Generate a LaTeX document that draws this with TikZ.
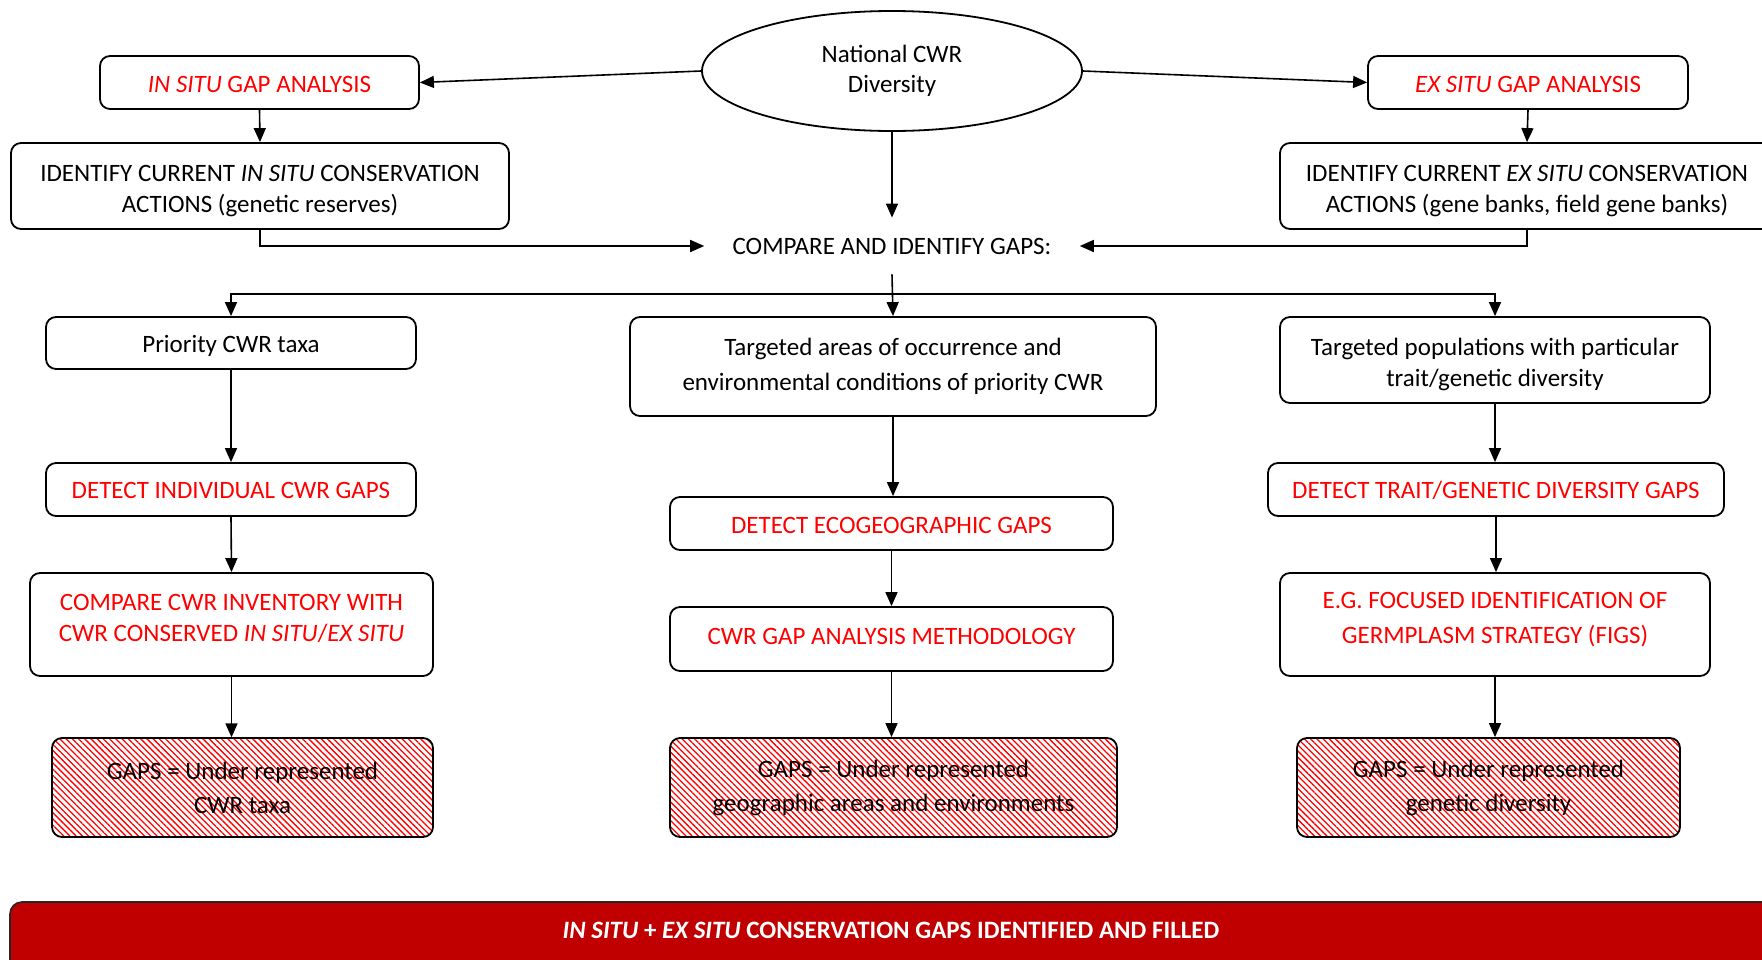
\documentclass[tikz,border=0pt]{standalone}
\usepackage{fontspec}
\setmainfont{Carlito}
\usetikzlibrary{arrows.meta,patterns.meta,shapes.geometric}
\definecolor{barred}{HTML}{C00000}
\begin{document}
\begin{tikzpicture}[x=0.5pt,y=-0.5pt,
  font=\fontsize{12.5}{16}\selectfont,
  box/.style={draw,line width=0.9pt,rounded corners=5pt,inner sep=0pt},
  tx/.style={align=center,inner sep=0pt},
  rtxt/.style={tx,text=red},
  gapbox/.style={box,pattern={Lines[angle=-45,distance=2.2pt,line width=0.65pt]},pattern color=red},
  arr/.style={line width=0.8pt,-{Triangle[length=7pt,width=6pt]}},
]
\useasboundingbox (0,0) rectangle (1762,959);

% boxes
\node[draw,ellipse,line width=0.9pt,minimum width=190pt,minimum height=60pt,inner sep=0pt,align=center] (ell) at (892,71) {National CWR\\[-1pt]Diversity};

\node[box,minimum width=159.5pt,minimum height=26.5pt] (insitu) at (259.5,82.5) {};
\node[rtxt] (insitu-t) at ([yshift=-1pt]insitu.center) {\textit{IN SITU} GAP ANALYSIS};
\node[box,minimum width=160pt,minimum height=26.5pt] (exsitu) at (1528,82.5) {};
\node[rtxt] (exsitu-t) at ([yshift=-1pt]exsitu.center) {\textit{EX SITU} GAP ANALYSIS};

\node[box,minimum width=249pt,minimum height=43pt] (idin) at (260,186) {};
\node[tx,font=\fontsize{12.5}{15.3}\selectfont] (idin-t) at ([yshift=-2.5pt]idin.center) {IDENTIFY CURRENT \textit{IN SITU} CONSERVATION\\ACTIONS (genetic reserves)};
\node[box,minimum width=247pt,minimum height=43pt] (idex) at (1527,186) {};
\node[tx,font=\fontsize{12.5}{15.3}\selectfont] (idex-t) at ([yshift=-2.5pt]idex.center) {IDENTIFY CURRENT \textit{EX SITU} CONSERVATION\\ACTIONS (gene banks, field gene banks)};

\node[tx,inner xsep=14pt,minimum height=28pt] (cmp) at (892,246) {COMPARE AND IDENTIFY GAPS:};

\node[box,minimum width=185pt,minimum height=26pt] (prio) at (231,343) {};
\node[tx] (prio-t) at ([yshift=-1.7pt]prio.center) {Priority CWR taxa};
\node[box,minimum width=263pt,minimum height=49.5pt] (targ) at (893,366.5) {};
\node[tx,font=\fontsize{12.5}{17.5}\selectfont] (targ-t) at (targ.center) {Targeted areas of occurrence and\\environmental conditions of priority CWR};
\node[box,minimum width=215pt,minimum height=43pt] (pop) at (1495,360) {};
\node[tx,font=\fontsize{12.5}{15.5}\selectfont] (pop-t) at ([yshift=-2pt]pop.center) {Targeted populations with particular\\trait/genetic diversity};

\node[box,minimum width=185pt,minimum height=26.5pt] (detind) at (231,489.5) {};
\node[rtxt] (detind-t) at ([yshift=-0.6pt]detind.center) {DETECT INDIVIDUAL CWR GAPS};
\node[box,minimum width=221.5pt,minimum height=26.5pt] (deteco) at (891.5,523.5) {};
\node[rtxt] (deteco-t) at ([yshift=-1.1pt]deteco.center) {DETECT ECOGEOGRAPHIC GAPS};
\node[box,minimum width=228pt,minimum height=26.5pt] (dettr) at (1496,489.5) {};
\node[rtxt] (dettr-t) at ([yshift=-0.6pt]dettr.center) {DETECT TRAIT/GENETIC DIVERSITY GAPS};

\node[box,minimum width=201.5pt,minimum height=51.5pt] (cmpinv) at (231.5,624.5) {};
\node[rtxt,font=\fontsize{12.5}{15.7}\selectfont] (cmpinv-t) at ([yshift=3pt]cmpinv.center) {COMPARE CWR INVENTORY WITH\\CWR CONSERVED \textit{IN SITU}/\textit{EX SITU}};
\node[box,minimum width=221.5pt,minimum height=32pt] (meth) at (891.5,639) {};
\node[rtxt] (meth-t) at ([yshift=1.5pt]meth.center) {CWR GAP ANALYSIS METHODOLOGY};
\node[box,minimum width=215pt,minimum height=51.5pt] (figs) at (1495,624.5) {};
\node[rtxt,font=\fontsize{12.5}{17.4}\selectfont] (figs-t) at ([yshift=2.3pt]figs.center) {E.G. FOCUSED IDENTIFICATION OF\\GERMPLASM STRATEGY (FIGS)};

\node[gapbox,minimum width=190.5pt,minimum height=49.5pt] (gap1) at (242.5,787.5) {};
\node[tx,font=\fontsize{12.5}{17}\selectfont] (gap1-t) at (gap1.center) {GAPS = Under represented\\CWR taxa};
\node[gapbox,minimum width=223.5pt,minimum height=49.5pt] (gap2) at (893.5,787.5) {};
\node[tx,font=\fontsize{12.5}{17}\selectfont] (gap2-t) at (gap2.center) {GAPS = Under represented\\geographic areas and environments};
\node[gapbox,minimum width=191.5pt,minimum height=49.5pt] (gap3) at (1488.5,787.5) {};
\node[tx,font=\fontsize{12.5}{17}\selectfont] (gap3-t) at (gap3.center) {GAPS = Under represented\\genetic diversity};

\path[draw=black!85,fill=barred,line width=0.8pt,rounded corners=6pt] (10,902) rectangle (1800,1000);
\node[text=white,font=\fontsize{12.5}{16}\selectfont\bfseries] (bar) at (891,930) {\textit{IN SITU} + \textit{EX SITU} CONSERVATION GAPS IDENTIFIED AND FILLED};

% connectors
\draw[arr] (ell.west) -- (insitu.east);
\draw[arr] (ell.east) -- (exsitu.west);
\draw[arr] (insitu.south) -- (idin.north);
\draw[arr] (exsitu.south) -- (idex.north);
\draw[arr] (ell.south) -- (cmp.north);
\draw[arr] (idin.south) |- (cmp.west);
\draw[arr] (idex.south) |- (cmp.east);
\coordinate (br) at (892,294);
\draw[arr] (cmp.south) -- (targ.north);
\draw[arr] (br) -| (prio.north);
\draw[arr] (br) -| (pop.north);

\draw[arr] (prio.south) -- (detind.north);
\draw[arr] (detind.south) -- (cmpinv.north);
\draw[arr] (cmpinv.south) -- (cmpinv.south |- gap1.north);

\draw[arr] (targ.south) -- (targ.south |- deteco.north);
\draw[arr] (deteco.south) -- (meth.north);
\draw[arr] (meth.south) -- (meth.south |- gap2.north);

\draw[arr] (pop.south) -- (pop.south |- dettr.north);
\draw[arr] (dettr.south) -- (dettr.south |- figs.north);
\draw[arr] (figs.south) -- (figs.south |- gap3.north);
\end{tikzpicture}
\end{document}
